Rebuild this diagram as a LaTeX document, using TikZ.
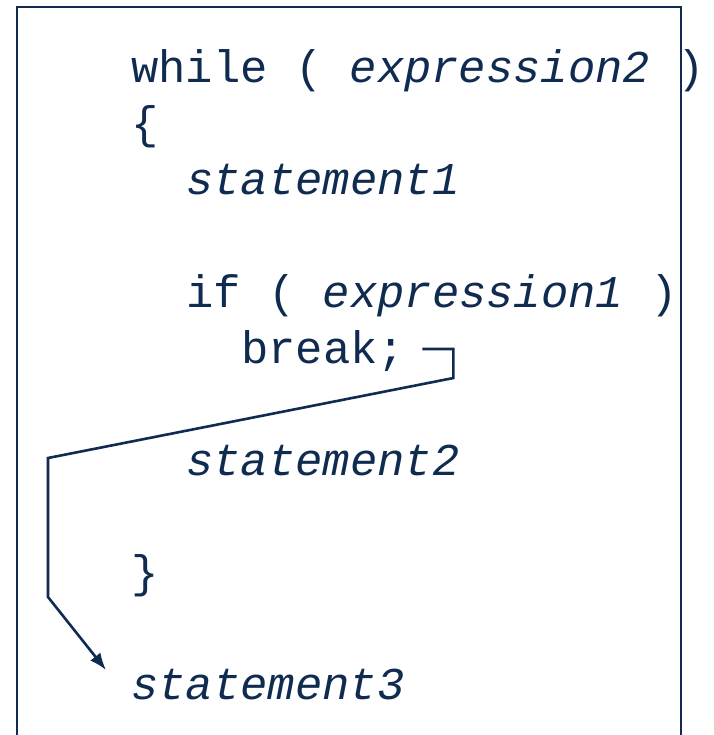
\documentclass[tikz,border=0pt]{standalone}
\usepackage{fontspec}
\setmonofont{Liberation Mono}
\usetikzlibrary{arrows.meta,calc}
\definecolor{codigo}{HTML}{0F2B4F}
\tikzset{
  linea/.style={anchor=base west,inner sep=0pt,text=codigo,
    font=\ttfamily\fontsize{45.5}{50}\selectfont},
}
\begin{document}
\begin{tikzpicture}[x=1pt,y=-1pt,>={Latex[length=17pt,width=13pt]},line width=2.6pt,draw=codigo]
  \useasboundingbox (0,0) rectangle (713,735);
  % marco (abierto abajo)
  \draw (17,760) -- (17,7) -- (681,7) -- (681,760);
  % lineas de codigo
  \node[linea] (wh) at (130,83) {while ( \textit{expression2} )};
  \node[linea] (ab) at (130,139) {\{};
  \node[linea] (s1) at (185,195) {\textit{statement1}};
  \node[linea] (si) at (185,307) {if ( \textit{expression1} )};
  \node[linea] (brk) at (240,363) {break;};
  \node[linea] (s2) at (185,475) {\textit{statement2}};
  \node[linea] (ce) at (130,587) {\}};
  \node[linea] (s3) at (130,699) {\textit{statement3}};
  % salto del break hacia statement3
  \coordinate (ini) at ($(brk.base east)+(16,-14)$);
  \coordinate (bajo) at ($(ini)+(31,29)$);
  \coordinate (izq) at (48,458);
  \coordinate (izqb) at ($(izq |- ce.base)+(0,10)$);
  \coordinate (fin) at ($(s3.base west)+(-24,-29)$);
  \draw[->] (ini) -- ++(31,0) -- (bajo) -- (izq) -- (izqb) -- (fin);
\end{tikzpicture}
\end{document}
